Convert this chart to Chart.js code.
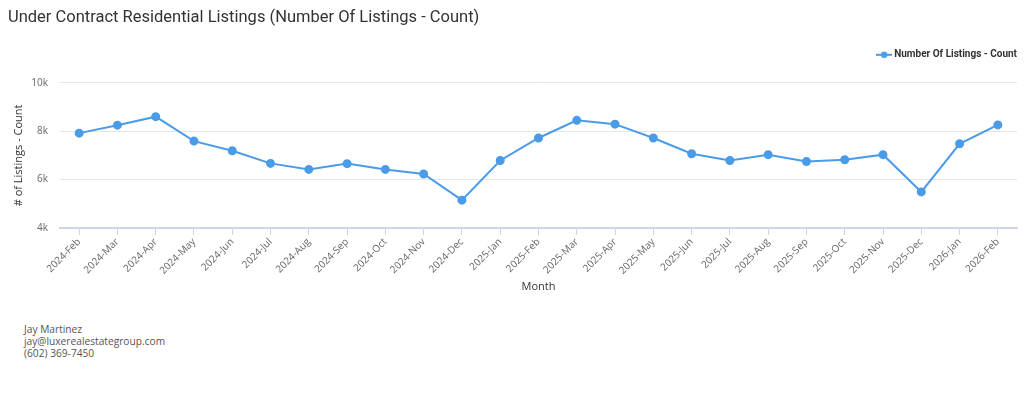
<!DOCTYPE html>
<html>
<head>
<meta charset="utf-8">
<script src="https://cdn.jsdelivr.net/npm/chart.js@4.4.1/dist/chart.umd.min.js"></script>
<style>
  html, body { margin: 0; padding: 0; background: #fff; }
  #wrap { position: relative; width: 1024px; height: 300px; }
  #footer {
    position: absolute; left: 24px; top: 323px;
    font: 10.2px "Open Sans", "DejaVu Sans", sans-serif; color: #555; line-height: 12px;
  }
</style>
</head>
<body>
<div id="wrap"><canvas id="chart"></canvas></div>
<div id="footer">
  <div>Jay Martinez</div>
  <div>jay@luxerealestategroup.com</div>
  <div>(602) 369-7450</div>
</div>
<script>
// ── Data ──
const months = [
    '2024-Feb','2024-Mar','2024-Apr','2024-May','2024-Jun','2024-Jul','2024-Aug','2024-Sep',
    '2024-Oct','2024-Nov','2024-Dec','2025-Jan','2025-Feb','2025-Mar','2025-Apr','2025-May',
    '2025-Jun','2025-Jul','2025-Aug','2025-Sep','2025-Oct','2025-Nov','2025-Dec','2026-Jan','2026-Feb'
];
const listings = [
    7920, 8250, 8600, 7590, 7190, 6670, 6420, 6660,
    6420, 6230, 5150, 6790, 7720, 8450, 8290, 7720,
    7070, 6790, 7030, 6750, 6820, 7030, 5490, 7480, 8260
];
const yTicks = [4000, 6000, 8000, 10000];

const BLUE = '#4a9be8';
const TEXT = '#333333';
const GREY = '#666666';

// legend marker: short line with a dot in the middle
const marker = document.createElement('canvas');
marker.width = 16; marker.height = 8;
(() => {
    const c = marker.getContext('2d');
    c.strokeStyle = BLUE; c.fillStyle = BLUE; c.lineWidth = 2;
    c.beginPath(); c.moveTo(0, 4); c.lineTo(16, 4); c.stroke();
    c.beginPath(); c.arc(8, 4, 3.2, 0, Math.PI * 2); c.fill();
})();

const legendMargin = {
    id: 'legendMargin',
    beforeInit(chart) {
        const fit = chart.legend.fit;
        chart.legend.fit = function () { fit.bind(chart.legend)(); this.height += 13; };
    }
};

new Chart(document.getElementById('chart'), {
    type: 'line',
    data: {
        labels: months,
        datasets: [{
            label: 'Number Of Listings - Count',
            data: listings,
            borderColor: BLUE,
            backgroundColor: BLUE,
            borderWidth: 2,
            pointRadius: 3.5,
            pointHoverRadius: 5,
            tension: 0
        }]
    },
    plugins: [legendMargin],
    options: {
        responsive: true, maintainAspectRatio: false, animation: false,
        layout: { padding: { left: 8, right: 1, top: 8, bottom: 7 } },
        plugins: {
            title: {
                display: true, align: 'start',
                text: 'Under Contract Residential Listings (Number Of Listings - Count)',
                color: TEXT, font: { family: 'Roboto', size: 16.5, weight: 'normal' },
                padding: { top: 0, bottom: 16 }
            },
            legend: {
                position: 'top', align: 'end',
                labels: {
                    usePointStyle: true, boxWidth: 16, padding: 6,
                    color: TEXT, font: { family: 'Roboto', size: 10, weight: 'bold' },
                    generateLabels: chart => [{
                        text: 'Number Of Listings - Count', fillStyle: BLUE, strokeStyle: BLUE,
                        lineWidth: 0, pointStyle: marker, datasetIndex: 0, fontColor: TEXT
                    }]
                }
            },
            tooltip: { enabled: false }
        },
        scales: {
            x: {
                offset: true,
                afterFit: axis => { axis.height = 65; },
                title: { display: true, text: 'Month', color: TEXT, font: { family: 'Open Sans', size: 11 }, padding: { top: 0, bottom: 0 } },
                grid: { display: true, drawOnChartArea: false, drawTicks: true, tickLength: 7, color: '#ccd6eb' },
                border: { display: true, color: '#ccd6eb', width: 2 },
                ticks: {
                    color: GREY, font: { family: 'Open Sans', size: 10 },
                    maxRotation: 45, minRotation: 45, autoSkip: false, padding: 1
                }
            },
            y: {
                min: 4000, max: 10000,
                afterFit: axis => { axis.width = 52; },
                afterBuildTicks: axis => { axis.ticks = yTicks.map(v => ({ value: v })); },
                title: { display: true, text: '# of Listings - Count', color: TEXT, font: { family: 'Open Sans', size: 11 } },
                grid: { color: '#e6e6e6', drawTicks: false },
                border: { display: false },
                ticks: {
                    color: GREY, font: { family: 'Open Sans', size: 10 }, padding: 12,
                    callback: v => (v / 1000) + 'k'
                }
            }
        }
    }
});
</script>
</body>
</html>
